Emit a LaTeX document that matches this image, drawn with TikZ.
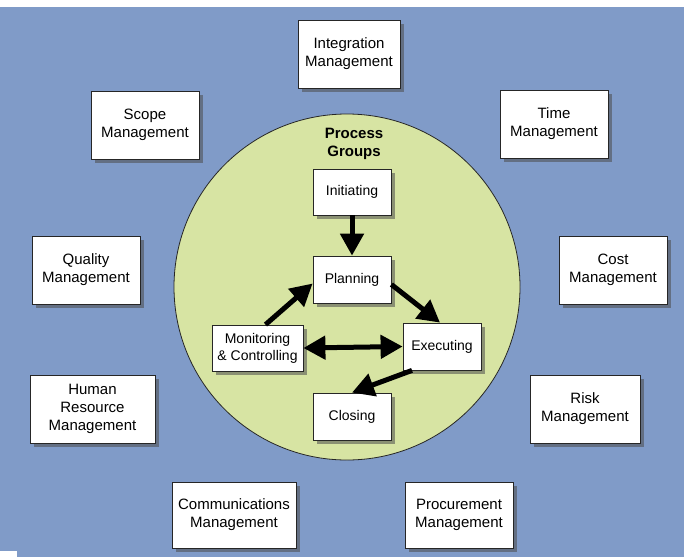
\documentclass[tikz,border=0pt]{standalone}
\usepackage{fontspec}
\setmainfont{Liberation Sans}
\usetikzlibrary{arrows.meta,shadows}
\definecolor{bgblue}{HTML}{809BC8}
\definecolor{circgreen}{HTML}{D7E4A3}
\begin{document}
\begin{tikzpicture}[x=1pt,y=-1pt,
  box/.style={draw=black!85, line width=0.8pt, fill=white, align=center, inner sep=0pt,
    font=\fontsize{15}{18}\selectfont,
    drop shadow={shadow xshift=4pt, shadow yshift=-4pt, fill=black!70, opacity=0.55}},
  pbox/.style={box, font=\fontsize{14}{17}\selectfont, minimum width=78pt, minimum height=47pt},
  bigarrow/.style={line width=5pt, -{Triangle[length=22pt,width=23pt]}},
  dblarrow/.style={line width=5pt, {Triangle[length=22pt,width=23pt]}-{Triangle[length=22pt,width=23pt]}},
]
\useasboundingbox (0,0) rectangle (684,557);
\fill[white] (0,0) rectangle (684,557);
\fill[bgblue] (0,7) rectangle (684,557);
\fill[white] (0,551) rectangle (17,557);

\node[circle, draw=black!85, line width=0.8pt, fill=circgreen, minimum size=346pt, inner sep=0pt] (circ) at (347,287) {};

% outer knowledge areas
\node[box, minimum width=102pt, minimum height=68pt] (integ) at (349,54) {Integration\\Management};
\node[box, minimum width=108pt, minimum height=68pt] (scope) at (145,125) {Scope\\Management};
\node[box, minimum width=108pt, minimum height=68pt] (time) at (554,124) {Time\\Management};
\node[box, minimum width=108pt, minimum height=68pt] (quality) at (86,270) {Quality\\Management};
\node[box, minimum width=108pt, minimum height=68pt] (cost) at (613,270) {Cost\\Management};
\node[box, minimum width=125pt, minimum height=68pt] (hr) at (92.5,409) {Human\\Resource\\Management};
\node[box, minimum width=110pt, minimum height=68pt] (risk) at (585,409) {Risk\\Management};
\node[box, minimum width=124pt, minimum height=66pt] (comm) at (234,515) {Communications\\Management};
\node[box, minimum width=108pt, minimum height=66pt] (proc) at (459,515) {Procurement\\Management};

% process groups
\node[font=\bfseries\fontsize{15}{18}\selectfont, align=center] (pg) at (354,144) {Process\\Groups};
\node[pbox, minimum height=46pt] (init) at (352,192) {Initiating};
\node[pbox] (plan) at (352,279.5) {Planning};
\node[pbox, minimum width=91pt, minimum height=46pt] (mon) at (257.5,348) {Monitoring\\\& Controlling};
\node[pbox] (exec) at (442,346.5) {Executing};
\node[pbox] (close) at (352,416.5) {Closing};

\draw[bigarrow] (init.south) -- (plan.north);
\draw[bigarrow] ([xshift=8pt]mon.north) -- ([yshift=-4pt]plan.west);
\draw[bigarrow] ([yshift=-5pt]plan.east) -- ([xshift=-2pt]exec.north);
\draw[dblarrow] (mon.east) -- (exec.west);
\draw[bigarrow] ([xshift=-30pt]exec.south) -- (close.north);
\end{tikzpicture}
\end{document}
